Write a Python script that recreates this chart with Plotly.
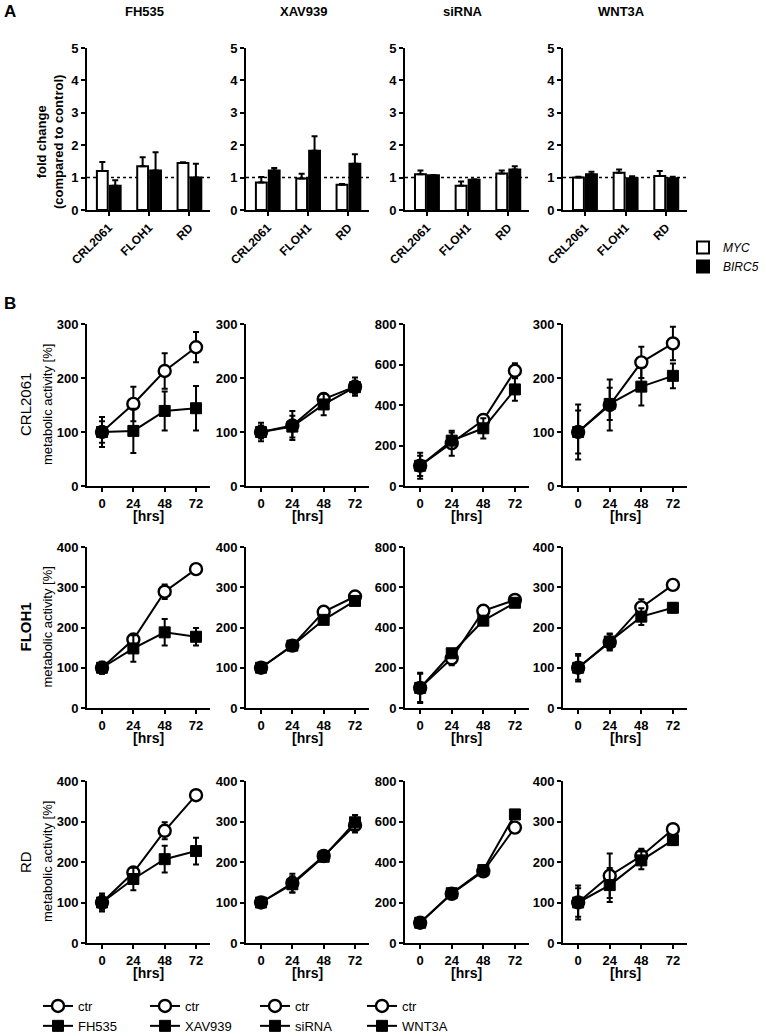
import plotly.graph_objects as go

W, H = 767, 1036
FONT = "Arial, Liberation Sans, DejaVu Sans, sans-serif"
NARROW = "Liberation Sans Narrow, Arial Narrow, Liberation Sans, Arial, sans-serif"

cell_lines = ["CRL2061", "FLOH1", "RD"]
treatments = ["FH535", "XAV939", "siRNA", "WNT3A"]
hours = [0, 24, 48, 72]

# ---- Panel A: fold change vs control (one list per treatment, values per cell line)
myc_fold = [[1.20, 1.35, 1.45], [0.85, 0.97, 0.78], [1.10, 0.75, 1.13], [1.00, 1.15, 1.05]]
myc_err = [[0.28, 0.28, 0.02], [0.17, 0.15, 0.02], [0.12, 0.13, 0.09], [0.03, 0.10, 0.15]]
birc5_fold = [[0.75, 1.22, 1.00], [1.22, 1.83, 1.43], [1.07, 0.93, 1.25], [1.10, 0.98, 0.98]]
birc5_err = [[0.17, 0.56, 0.43], [0.08, 0.45, 0.29], [0.01, 0.02, 0.10], [0.08, 0.06, 0.05]]

# ---- Panel B: metabolic activity [%] (one list per treatment, values per time point)
crl2061_ctr = [[100, 152, 213, 257], [100, 112, 161, 184], [100, 211, 326, 569], [100, 150, 229, 264]]
crl2061_ctr_sd = [[28, 32, 33, 28], [17, 27, 8, 17], [64, 62, 20, 37], [51, 47, 29, 31]]
crl2061_trt = [[100, 102, 139, 144], [100, 110, 151, 183], [100, 224, 285, 477], [100, 152, 184, 204]]
crl2061_trt_sd = [[20, 41, 36, 41], [12, 20, 20, 12], [50, 40, 50, 56], [40, 30, 35, 23]]

floh1_ctr = [[100, 170, 289, 345], [100, 155, 239, 277], [100, 247, 483, 537], [100, 163, 250, 306]]
floh1_ctr_sd = [[15, 10, 18, 12], [5, 8, 12, 8], [75, 35, 15, 15], [34, 20, 20, 8]]
floh1_trt = [[100, 148, 188, 177], [100, 155, 219, 266], [100, 272, 434, 523], [100, 165, 227, 249]]
floh1_trt_sd = [[12, 33, 33, 22], [5, 8, 8, 8], [70, 20, 15, 15], [30, 20, 21, 12]]

rd_ctr = [[100, 174, 277, 365], [100, 148, 215, 291], [100, 243, 354, 570], [100, 166, 215, 281]]
rd_ctr_sd = [[22, 12, 21, 12], [8, 23, 12, 18], [15, 12, 12, 15], [42, 55, 18, 12]]
rd_trt = [[100, 158, 207, 227], [100, 145, 213, 298], [100, 246, 360, 635], [100, 143, 204, 254]]
rd_trt_sd = [[18, 28, 33, 33], [8, 20, 12, 18], [15, 12, 12, 12], [35, 42, 22, 12]]

line_rows = [
    (crl2061_ctr, crl2061_ctr_sd, crl2061_trt, crl2061_trt_sd),
    (floh1_ctr, floh1_ctr_sd, floh1_trt, floh1_trt_sd),
    (rd_ctr, rd_ctr_sd, rd_trt, rd_trt_sd),
]
row_ymax = [[300, 300, 800, 300], [400, 400, 800, 400], [400, 400, 800, 400]]

# ---- geometry (pixels)
col_px = [(87, 210), (246, 369), (405, 529), (563, 687)]
row_px = [(48, 210), (324, 486), (547, 708), (781, 943)]


def xdom(c):
    return [col_px[c][0] / W, col_px[c][1] / W]


def ydom(r):
    return [1 - row_px[r][1] / H, 1 - row_px[r][0] / H]


def px(x):
    return x / W


def py(y):
    return 1 - y / H


def suffix(n):
    return "" if n == 1 else str(n)


def note(text, x, y, size, angle=0):
    return dict(text=text, x=px(x), y=py(y), xref="paper", yref="paper",
                xanchor="center", yanchor="middle", textangle=angle, showarrow=False,
                font=dict(family=FONT, size=size, color="black"))


axis_common = dict(
    showline=True, linecolor="black", linewidth=2,
    ticks="outside", ticklen=4, tickwidth=2, tickcolor="black",
    showgrid=False, zeroline=False, fixedrange=True,
    tickfont=dict(family=FONT, size=13, color="black", weight="bold"),
)

fig = go.Figure()
layout = {}
shapes = []
annotations = []

# ---- Panel A bars
for c, trt in enumerate(treatments):
    n = c + 1
    s = suffix(n)
    xa, ya = "x" + s, "y" + s
    fig.add_trace(go.Bar(
        x=[0, 1, 2], y=myc_fold[c], xaxis=xa, yaxis=ya, offsetgroup="myc",
        name="<i>MYC</i>", showlegend=(c == 0), legend="legend",
        marker=dict(color="white", line=dict(color="black", width=2)),
        error_y=dict(type="data", symmetric=False, array=myc_err[c], arrayminus=[0, 0, 0],
                     color="black", thickness=2, width=3),
    ))
    fig.add_trace(go.Bar(
        x=[0, 1, 2], y=birc5_fold[c], xaxis=xa, yaxis=ya, offsetgroup="birc5",
        name="<i>BIRC5</i>", showlegend=(c == 0), legend="legend",
        marker=dict(color="black", line=dict(color="black", width=2)),
        error_y=dict(type="data", symmetric=False, array=birc5_err[c], arrayminus=[0, 0, 0],
                     color="black", thickness=2, width=3),
    ))
    layout["xaxis" + s] = dict(axis_common, domain=xdom(c), anchor=ya, range=[-0.54, 2.51],
                               tickvals=[0, 1, 2], ticktext=cell_lines, tickangle=-45,
                               tickfont=dict(family=FONT, size=12, color="black", weight="bold"))
    layout["yaxis" + s] = dict(axis_common, domain=ydom(0), anchor=xa, range=[0, 5],
                               tickvals=[0, 1, 2, 3, 4, 5])
    shapes.append(dict(type="line", xref=xa + " domain", yref=ya, x0=0, x1=1, y0=1, y1=1,
                       line=dict(color="black", width=1.5, dash="dot"), layer="below"))
    annotations.append(note(f"<b>{trt}</b>", (col_px[c][0] + col_px[c][1]) / 2 - 4, 12, 13))

# ---- Panel B lines
for r in range(3):
    ctr, ctr_sd, trt_v, trt_sd = line_rows[r]
    for c, trt in enumerate(treatments):
        n = (r + 1) * 4 + c + 1
        s = suffix(n)
        xa, ya = "x" + s, "y" + s
        lg = f"legend{c + 2}"
        fig.add_trace(go.Scatter(
            x=hours, y=ctr[c], xaxis=xa, yaxis=ya, mode="lines+markers", name="ctr",
            showlegend=(r == 0), legend=lg,
            line=dict(color="black", width=2),
            marker=dict(symbol="circle", size=12, color="white", line=dict(color="black", width=2.4)),
            error_y=dict(type="data", array=ctr_sd[c], color="black", thickness=2, width=3),
        ))
        fig.add_trace(go.Scatter(
            x=hours, y=trt_v[c], xaxis=xa, yaxis=ya, mode="lines+markers", name=trt,
            showlegend=(r == 0), legend=lg,
            line=dict(color="black", width=2),
            marker=dict(symbol="square", size=11, color="black", line=dict(color="black", width=1)),
            error_y=dict(type="data", array=trt_sd[c], color="black", thickness=2, width=3),
        ))
        ymax = row_ymax[r][c]
        layout["xaxis" + s] = dict(axis_common, domain=xdom(c), anchor=ya, range=[-11.5, 82.7],
                                   tickvals=hours)
        layout["yaxis" + s] = dict(axis_common, domain=ydom(r + 1), anchor=xa, range=[0, ymax],
                                   dtick=200 if ymax == 800 else 100)
        annotations.append(note("<b>[hrs]</b>", (col_px[c][0] + col_px[c][1]) / 2,
                                row_px[r + 1][1] + 30, 14))
    ymid = (row_px[r + 1][0] + row_px[r + 1][1]) / 2
    name_txt = f"<b>{cell_lines[r]}</b>" if cell_lines[r] == "FLOH1" else cell_lines[r]
    annotations.append(note(name_txt, 25, ymid, 15, -90))
    annotations.append(note("metabolic activity [%]", 47, ymid, 13, -90))

# ---- panel letters and A y-title
annotations.append(note("<b>A</b>", 10, 11, 17))
annotations.append(note("<b>B</b>", 10, 303, 17))
annotations.append(note("<b>fold change<br>(compared to control)</b>", 50, 142, 13, -90))

# ---- legends
legend_style = dict(bgcolor="rgba(0,0,0,0)", borderwidth=0, xanchor="left", yanchor="top",
                    itemwidth=30, tracegroupgap=0, itemclick=False, itemdoubleclick=False)
layout["legend"] = dict(legend_style, x=px(683), y=py(233),
                        font=dict(family=FONT, size=12, color="black"))
leg_x = [38, 145, 255, 362]
for c in range(4):
    layout[f"legend{c + 2}"] = dict(legend_style, x=px(leg_x[c]), y=py(991),
                                    font=dict(family=NARROW, size=13, color="black"))

fig.update_layout(
    width=W, height=H, margin=dict(l=0, r=0, t=0, b=0, pad=0, autoexpand=False),
    paper_bgcolor="white", plot_bgcolor="white",
    barmode="group", bargap=0.36, bargroupgap=0.16,
    shapes=shapes, annotations=annotations,
    font=dict(family=FONT, color="black"),
    **layout,
)

fig.write_html("out.html", config={"displayModeBar": False},
               post_script="document.body.style.margin='0';")
